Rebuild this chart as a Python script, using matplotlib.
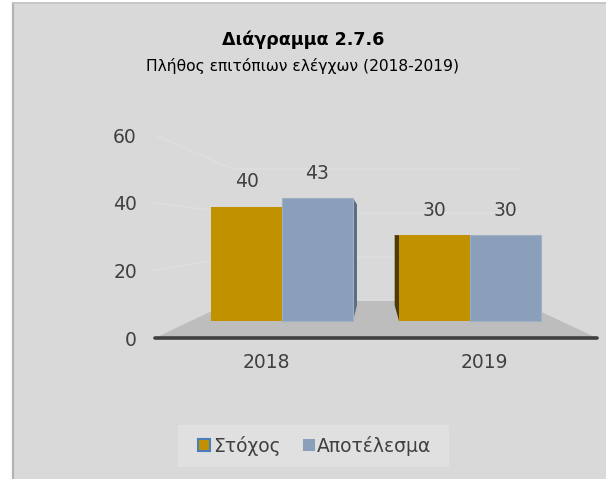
import matplotlib
matplotlib.use("Agg")
import matplotlib.pyplot as plt
from matplotlib.patches import Rectangle, Polygon, Patch
import numpy as np

# ---- data -------------------------------------------------------------
years = ["2018", "2019"]
series_names = ["Στόχος", "Αποτέλεσμα"]
target = [40, 30]
result = [43, 30]
y_ticks = [0, 20, 40, 60]

title = "Διάγραμμα 2.7.6"
subtitle = "Πλήθος επιτόπιων ελέγχων (2018-2019)"

# ---- style ------------------------------------------------------------
W, H = 606, 479
BG = "#d9d9d9"
TXT = "#404040"
C_TARGET = "#c29100"
C_TARGET_SIDE = "#4e3b00"
C_RESULT = "#8a9fb9"
C_RESULT_SIDE = "#5b6b82"
FLOOR = "#bdbdbd"
GRID = "#dfdfdf"

plt.rcParams["font.family"] = ["DejaVu Sans"]

fig = plt.figure(figsize=(W / 100, H / 100), dpi=100, facecolor="white")


def fig_rect(x0, y0, x1, y1):
    """pixel box (top-left origin) -> figure fraction [l, b, w, h]"""
    return [x0 / W, 1 - y1 / H, (x1 - x0) / W, (y1 - y0) / H]


# decoration layer in pixel units
deco = fig.add_axes([0, 0, 1, 1])
deco.set_xlim(0, W)
deco.set_ylim(H, 0)
deco.axis("off")
deco.add_patch(Rectangle((12, 2), W - 12, H - 2, facecolor=BG, edgecolor="none"))
deco.plot([13, 13], [2, H], color="#b3b3b3", lw=1.6, solid_capstyle="butt")
deco.plot([12, W], [2.5, 2.5], color="#c4c4c4", lw=1.2, solid_capstyle="butt")

# plot box geometry (pixels)
PX0, PX1 = 155, 597          # front edge of the floor
PY_TOP, PY_AX = 120, 338      # top of plot box, front axis line
BX0, BX1, BY0 = 233, 518, 301  # back wall corners at value 0
WALL_SCALE = 44 / 20          # px per unit on the back wall
TICK_SCALE = 3.38             # px per unit on the front-left edge

# floor
deco.add_patch(Polygon([(PX0, PY_AX), (BX0, BY0), (BX1, BY0), (PX1, PY_AX)],
                       closed=True, facecolor=FLOOR, edgecolor="none"))
# perspective gridlines: left wall + back wall
for v in y_ticks[1:]:
    yf = PY_AX - v * TICK_SCALE
    yb = BY0 - v * WALL_SCALE
    deco.plot([PX0, BX0, BX1], [yf, yb, yb], color=GRID, lw=1.0)

# legend box
deco.add_patch(Rectangle((178, 425), 271, 42, facecolor="#e0e0e0", edgecolor="none"))

# titles
fig.text(0.5, 1 - 40 / H, title, ha="center", va="center",
         fontsize=12.6, fontweight="bold", color="black")
fig.text(0.5, 1 - 66 / H, subtitle, ha="center", va="center",
         fontsize=11.2, color="black")

# ---- axis frame: value ticks and category labels -----------------------
frame = fig.add_axes(fig_rect(PX0, PY_TOP, PX1, PY_AX))
frame.patch.set_visible(False)
frame.set_ylim(0, (PY_AX - PY_TOP) / TICK_SCALE)
cat_scale = 218
frame.set_xlim((PX0 - 266) / cat_scale, (PX1 - 266) / cat_scale)
frame.set_yticks(y_ticks)
frame.set_yticklabels([str(t) for t in y_ticks])
frame.set_xticks(range(len(years)))
frame.set_xticklabels(years)
frame.tick_params(axis="y", length=0, pad=13, labelsize=13.5, labelcolor=TXT)
frame.tick_params(axis="x", length=0, pad=11, labelsize=13.5, labelcolor=TXT)
for s in ["top", "right", "left", "bottom"]:
    frame.spines[s].set_visible(False)
frame.plot([0, 1], [0, 0], transform=frame.transAxes, color="#3f3f3f",
           lw=2.6, solid_capstyle="round", clip_on=False, zorder=5)

# ---- bars -------------------------------------------------------------
ax = fig.add_axes(fig_rect(PX0, PY_TOP, PX1, PY_AX))
ax.patch.set_visible(False)
ax.axis("off")
BAR_SCALE = 2.86
BASE_PY = 321
ax.set_ylim(-(PY_AX - BASE_PY) / BAR_SCALE, (BASE_PY - PY_TOP) / BAR_SCALE)
grp_scale = 188
ax.set_xlim((PX0 - 282) / grp_scale, (PX1 - 282) / grp_scale)

x = np.arange(len(years))
bw = 71 / grp_scale
b1 = ax.bar(x - bw / 2, target, width=bw, color=C_TARGET, edgecolor="none", zorder=3)
b2 = ax.bar(x + bw / 2, result, width=bw, color=C_RESULT,
            edgecolor="#9db0c6", linewidth=0.8, zorder=3)

# side faces receding to the vanishing point
VP = (375, 234)
DEPTH = 0.18
to_px = ax.transData
to_data = ax.transData.inverted()


def side_face(rect, side, color):
    x0, w, h = rect.get_x(), rect.get_width(), rect.get_height()
    xe = x0 + w if side == "right" else x0
    (pxe, pyt) = to_px.transform((xe, h))
    (_, pyb) = to_px.transform((xe, 0))
    # display coords are bottom-left origin; VP is given top-left origin
    vpx, vpy = VP[0], H - VP[1]
    pts = [(pxe, pyb), (pxe, pyt)]
    for py in (pyt, pyb):
        pts.append((pxe + (vpx - pxe) * DEPTH, py + (vpy - py) * DEPTH))
    dpts = to_data.transform(pts)
    ax.add_patch(Polygon(dpts, closed=True, facecolor=color, edgecolor="none", zorder=2))


for i in range(len(years)):
    r_t, r_r = b1[i], b2[i]
    left_px = to_px.transform((r_t.get_x(), 0))[0]
    right_px = to_px.transform((r_r.get_x() + r_r.get_width(), 0))[0]
    if right_px < VP[0]:
        side_face(r_r, "right", C_RESULT_SIDE)
    if left_px > VP[0]:
        side_face(r_t, "left", C_TARGET_SIDE)

# value labels
for bars, vals in ((b1, target), (b2, result)):
    for r, v in zip(bars, vals):
        ax.annotate(str(v), (r.get_x() + r.get_width() / 2, v),
                    xytext=(0, 18), textcoords="offset points",
                    ha="center", va="center", fontsize=13.5, color=TXT, zorder=6)

# ---- legend -----------------------------------------------------------
handles = [Patch(facecolor=C_TARGET, edgecolor="#4a7ebb", linewidth=1.5),
           Patch(facecolor=C_RESULT, edgecolor="none")]
fig.legend(handles, series_names, loc="center", bbox_to_anchor=(315 / W, 1 - 446 / H),
           ncol=2, frameon=False, fontsize=13.5, labelcolor=TXT,
           handlelength=0.62, handleheight=0.62, handletextpad=0.15,
           columnspacing=1.2, borderpad=0)

fig.savefig("out.png", dpi=100, facecolor="white")
